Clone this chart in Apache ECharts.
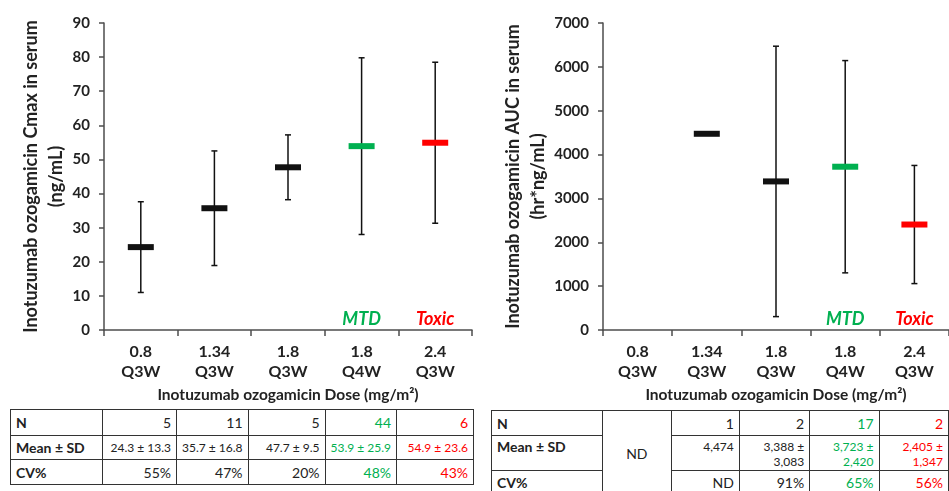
<!DOCTYPE html>
<html>
<head>
<meta charset="utf-8">
<script src="https://cdn.jsdelivr.net/npm/echarts@6/dist/echarts.min.js"></script>
<style>
html,body{margin:0;padding:0;background:#fff;overflow:hidden;width:949px;height:491px}
#chart{position:absolute;left:0;top:0;width:949px;height:491px}
table.t{position:absolute;border-collapse:collapse;table-layout:fixed;font-family:Lato,"Open Sans",sans-serif;color:#222;background:#fff}
table.t td{border:1.5px solid #333;padding:0 5px;text-align:right;white-space:nowrap;overflow:hidden;font-size:14px;vertical-align:middle}
table.t td.lab{text-align:left;font-weight:bold;font-size:14px}
table.t td.mean{font-size:12px}
table.t td.top{vertical-align:top;padding-top:3px;line-height:15px}
table.t td.nd{text-align:center}
</style>
</head>
<body>
<div id="chart"></div>
<table class="t" id="tblCmax"></table>
<table class="t" id="tblAuc"></table>
<script>
// ---------- data ----------
const doseLabels = ['0.8\nQ3W', '1.34\nQ3W', '1.8\nQ3W', '1.8\nQ4W', '2.4\nQ3W'];
const groupColors = ['#111111', '#111111', '#111111', '#00B050', '#FF0000'];
const annotations = ['', '', '', 'MTD', 'Toxic'];

const cmaxMean = [24.3, 35.7, 47.7, 53.9, 54.9];
const cmaxSD   = [13.3, 16.8, 9.5, 25.9, 23.6];
const cmaxN    = [5, 11, 5, 44, 6];
const cmaxCV   = ['55%', '47%', '20%', '48%', '43%'];

const aucMean = [null, 4474, 3388, 3723, 2405];
const aucSD   = [null, null, 3083, 2420, 1347];
const aucN    = [null, 1, 2, 17, 2];
const aucCV   = [null, 'ND', '91%', '65%', '56%'];

const cmaxTicks = {min: 0, max: 90, interval: 10};
const aucTicks  = {min: 0, max: 7000, interval: 1000};

const rowLabels = ['N', 'Mean ± SD', 'CV%'];

// ---------- chart ----------
const FONT = 'Lato, "Open Sans", sans-serif';
const AXIS_COLOR = '#4d4d4d';
const chart = echarts.init(document.getElementById('chart'), null, {renderer: 'canvas'});

function xAxisCfg(gi) {
  return {
    type: 'category', gridIndex: gi, data: doseLabels, boundaryGap: true,
    axisLine: {lineStyle: {color: AXIS_COLOR, width: 1.5}},
    axisTick: {show: true, length: 6, lineStyle: {color: AXIS_COLOR, width: 1.5}},
    axisLabel: {interval: 0, color: '#222', fontSize: 16, fontWeight: 'bold', fontFamily: FONT, lineHeight: 20, margin: 12},
    name: 'Inotuzumab ozogamicin Dose (mg/m²)', nameLocation: 'middle', nameGap: 57,
    nameTextStyle: {color: '#222', fontSize: 15.5, fontWeight: 'bold', fontFamily: FONT}
  };
}
function yAxisCfg(gi, ticks, name, gap) {
  return {
    type: 'value', gridIndex: gi, min: ticks.min, max: ticks.max, interval: ticks.interval,
    splitLine: {show: false},
    axisLine: {show: true, lineStyle: {color: AXIS_COLOR, width: 1.5}},
    axisTick: {show: true, length: 5, lineStyle: {color: AXIS_COLOR, width: 1.5}},
    axisLabel: {color: '#222', fontSize: 15, fontWeight: 'bold', fontFamily: FONT, margin: 14,
      formatter: v => String(v)},
    name: name, nameLocation: 'middle', nameGap: gap, nameRotate: 90,
    nameTextStyle: {color: '#222', fontSize: 18, fontWeight: 'bold', fontFamily: FONT, lineHeight: 25, align: 'center'}
  };
}

function errData(mean, sd) {
  const out = [];
  mean.forEach((m, i) => { if (m != null && sd[i] != null) out.push([i, m - sd[i], m + sd[i]]); });
  return out;
}
function meanData(mean) {
  const out = [];
  mean.forEach((m, i) => { if (m != null) out.push([i, m]); });
  return out;
}
function annData() {
  const out = [];
  annotations.forEach((a, i) => { if (a) out.push([i, 0]); });
  return out;
}

function renderErr(params, api) {
  const x = api.value(0);
  const lo = api.coord([x, api.value(1)]);
  const hi = api.coord([x, api.value(2)]);
  const cw = 3;
  const st = {stroke: '#111', lineWidth: 1.5};
  return {type: 'group', children: [
    {type: 'line', shape: {x1: lo[0], y1: lo[1], x2: hi[0], y2: hi[1]}, style: st},
    {type: 'line', shape: {x1: lo[0] - cw, y1: lo[1], x2: lo[0] + cw, y2: lo[1]}, style: st},
    {type: 'line', shape: {x1: hi[0] - cw, y1: hi[1], x2: hi[0] + cw, y2: hi[1]}, style: st}
  ]};
}
function renderMean(params, api) {
  const i = api.value(0);
  const p = api.coord([i, api.value(1)]);
  return {type: 'rect', shape: {x: p[0] - 13, y: p[1] - 3, width: 26, height: 6}, style: {fill: groupColors[i]}};
}
function renderAnn(params, api) {
  const i = api.value(0);
  const p = api.coord([i, api.value(1)]);
  return {type: 'text', x: p[0], y: p[1] - 11,
    style: {text: annotations[i], fill: groupColors[i], font: 'italic bold 18px ' + FONT, align: 'center', verticalAlign: 'middle'}};
}

const option = {
  animation: false,
  backgroundColor: '#fff',
  grid: [
    {left: 104, top: 23, width: 368, height: 307},
    {left: 603, top: 23, width: 350, height: 307}
  ],
  xAxis: [xAxisCfg(0), xAxisCfg(1)],
  yAxis: [
    yAxisCfg(0, cmaxTicks, 'Inotuzumab ozogamicin Cmax in serum\n(ng/mL)', 30),
    yAxisCfg(1, aucTicks, 'Inotuzumab ozogamicin AUC in serum\n(hr*ng/mL)', 45)
  ],
  series: [
    {type: 'custom', xAxisIndex: 0, yAxisIndex: 0, renderItem: renderErr, data: errData(cmaxMean, cmaxSD), z: 2},
    {type: 'custom', xAxisIndex: 0, yAxisIndex: 0, renderItem: renderMean, data: meanData(cmaxMean), z: 3},
    {type: 'custom', xAxisIndex: 0, yAxisIndex: 0, renderItem: renderAnn, data: annData(), z: 4},
    {type: 'custom', xAxisIndex: 1, yAxisIndex: 1, renderItem: renderErr, data: errData(aucMean, aucSD), z: 2},
    {type: 'custom', xAxisIndex: 1, yAxisIndex: 1, renderItem: renderMean, data: meanData(aucMean), z: 3},
    {type: 'custom', xAxisIndex: 1, yAxisIndex: 1, renderItem: renderAnn, data: annData(), z: 4}
  ]
};
chart.setOption(option);

// ---------- tables ----------
function colorOf(i) { return groupColors[i] === '#111111' ? '#222' : groupColors[i]; }
function fmt(v) { return v.toLocaleString('en-US'); }

(function buildCmax() {
  const t = document.getElementById('tblCmax');
  t.style.left = '10px'; t.style.top = '409px';
  const widths = [92, 74, 71, 77, 71, 77];
  const heights = [26, 24, 25];
  let html = '<colgroup>' + widths.map(w => '<col style="width:' + w + 'px">').join('') + '</colgroup>';
  const rows = [
    cmaxN.map(String),
    cmaxMean.map((m, i) => m.toFixed(1) + ' ± ' + cmaxSD[i].toFixed(1)),
    cmaxCV
  ];
  rows.forEach((r, ri) => {
    html += '<tr style="height:' + heights[ri] + 'px"><td class="lab">' + rowLabels[ri] + '</td>';
    r.forEach((v, i) => {
      html += '<td class="' + (ri === 1 ? 'mean' : '') + '" style="color:' + colorOf(i) + '">' + v + '</td>';
    });
    html += '</tr>';
  });
  t.innerHTML = html;
})();

(function buildAuc() {
  const t = document.getElementById('tblAuc');
  t.style.left = '491px'; t.style.top = '410px';
  const widths = [112, 70, 69, 71, 70, 70];
  const heights = [25, 35, 25];
  let html = '<colgroup>' + widths.map(w => '<col style="width:' + w + 'px">').join('') + '</colgroup>';
  for (let ri = 0; ri < 3; ri++) {
    html += '<tr style="height:' + heights[ri] + 'px"><td class="lab' + (ri === 1 ? ' top' : '') + '"' +
      (ri === 2 ? ' style="vertical-align:top;padding-top:3px"' : '') + '>' + rowLabels[ri] + '</td>';
    for (let i = 0; i < 5; i++) {
      if (aucMean[i] == null) {
        if (ri === 0) html += '<td class="nd" rowspan="3" style="color:#222">ND</td>';
        continue;
      }
      let v;
      if (ri === 0) v = String(aucN[i]);
      else if (ri === 1) v = aucSD[i] == null ? fmt(aucMean[i]) : fmt(aucMean[i]) + ' ±<br>' + fmt(aucSD[i]);
      else v = aucCV[i];
      const extra = ri === 2 ? ';vertical-align:top;padding-top:3px' : '';
      html += '<td class="' + (ri === 1 ? 'mean top' : '') + '" style="color:' + colorOf(i) + extra + '">' + v + '</td>';
    }
    html += '</tr>';
  }
  t.innerHTML = html;
})();
</script>
</body>
</html>
